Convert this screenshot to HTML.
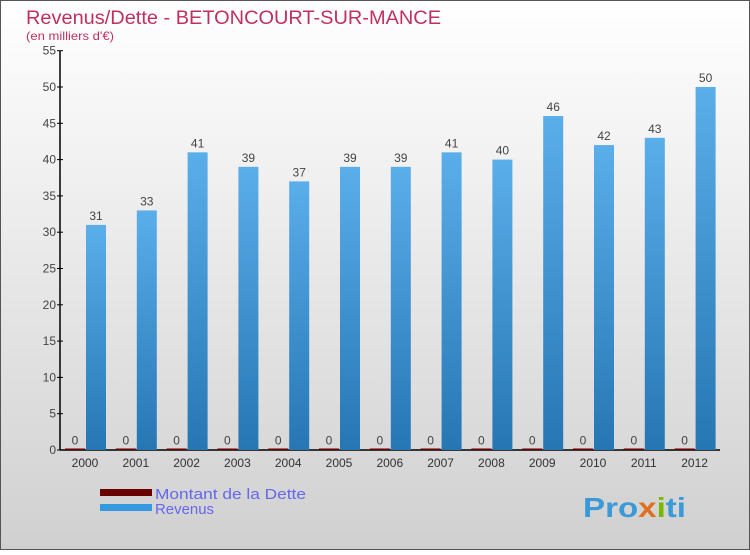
<!DOCTYPE html>
<html><head><meta charset="utf-8"><style>
body{margin:0}
svg text{font-family:"Liberation Sans",sans-serif}
</style></head><body>
<svg width="750" height="550" xmlns="http://www.w3.org/2000/svg">
<defs>
<linearGradient id="bg" x1="0" y1="0" x2="0" y2="1"><stop offset="0" stop-color="#ffffff"/><stop offset="1" stop-color="#d0d0d0"/></linearGradient>
<linearGradient id="rev" x1="0" y1="0" x2="0" y2="1"><stop offset="0" stop-color="#5aaeea"/><stop offset="1" stop-color="#2676b4"/></linearGradient>
</defs>
<rect x="0.5" y="0.5" width="749" height="549" fill="url(#bg)" stroke="#555"/>
<text x="26" y="24" font-size="19" fill="#c0305e" textLength="415" lengthAdjust="spacingAndGlyphs">Revenus/Dette - BETONCOURT-SUR-MANCE</text>
<text x="26" y="40" font-size="12" fill="#c0305e" textLength="88" lengthAdjust="spacingAndGlyphs">(en milliers d'€)</text>
<g id="axes"></g>
<g id="bars"></g>
<rect x="100" y="489" width="52" height="7" fill="#6b0000"/>
<text x="155" y="499" font-size="15" fill="#6666ee" textLength="151" lengthAdjust="spacingAndGlyphs">Montant de la Dette</text>
<rect x="100" y="504" width="52" height="7" fill="#3499e0"/>
<text x="155" y="514" font-size="15" fill="#6666ee" textLength="59" lengthAdjust="spacingAndGlyphs">Revenus</text>
<text x="583" y="517" font-size="28" font-weight="bold" fill="#3a9ad8" textLength="103" lengthAdjust="spacingAndGlyphs">Pro<tspan fill="#e07020">x</tspan><tspan fill="#7ab800">i</tspan>ti</text>
</svg>
<script>
const years=["2000","2001","2002","2003","2004","2005","2006","2007","2008","2009","2010","2011","2012"];
const dette=[0,0,0,0,0,0,0,0,0,0,0,0,0];
const revenus=[31,33,41,39,37,39,39,41,40,46,42,43,50];
const yTicks=[0,5,10,15,20,25,30,35,40,45,50,55];
const NS="http://www.w3.org/2000/svg";
const y0=450,yPer=7.26,x0=85,step=50.8,bw=20;
const yS=v=>y0-v*yPer;
const xS=i=>x0+i*step;
function mk(t,a,p,txt){const e=document.createElementNS(NS,t);for(const k in a)e.setAttribute(k,a[k]);if(txt!==undefined)e.textContent=txt;p.appendChild(e);return e;}
const ax=document.getElementById('axes'),bars=document.getElementById('bars');
let e=mk('line',{x1:60,y1:yS(55),x2:60,y2:y0,stroke:'#000','stroke-width':1.5},ax);


e=mk('line',{x1:60,y1:y0,x2:720,y2:y0,stroke:'#000','stroke-width':1.5},ax);


yTicks.forEach(t=>{
 mk('line',{x1:57,x2:63,y1:yS(t),y2:yS(t),stroke:'#000'},ax);
 e=mk('text',{x:56,y:yS(t)+4,'font-size':12,fill:'#444','text-anchor':'end'},ax,t);
 
 
});
years.forEach((yr,i)=>{
 const cx=xS(i);
 e=mk('text',{x:cx,y:467,'font-size':12,fill:'#333','text-anchor':'middle'},ax,yr);
 
 
 const dh=Math.max(dette[i]*yPer,1.5);
 e=mk('rect',{x:cx-bw,y:y0-dh,width:bw,height:dh,fill:'#6b0000'},bars);
 
 
 e=mk('text',{x:cx-bw/2,y:y0-dh-4,'font-size':12,fill:'#444','text-anchor':'middle'},bars,dette[i]);
 
 
 e=mk('rect',{x:cx+1,y:yS(revenus[i]),width:bw,height:revenus[i]*yPer,fill:'url(#rev)'},bars);
 
 
 e=mk('text',{x:cx+1+bw/2,y:yS(revenus[i])-5,'font-size':12,fill:'#444','text-anchor':'middle'},bars,revenus[i]);
 
 
});
</script>
</body></html>
